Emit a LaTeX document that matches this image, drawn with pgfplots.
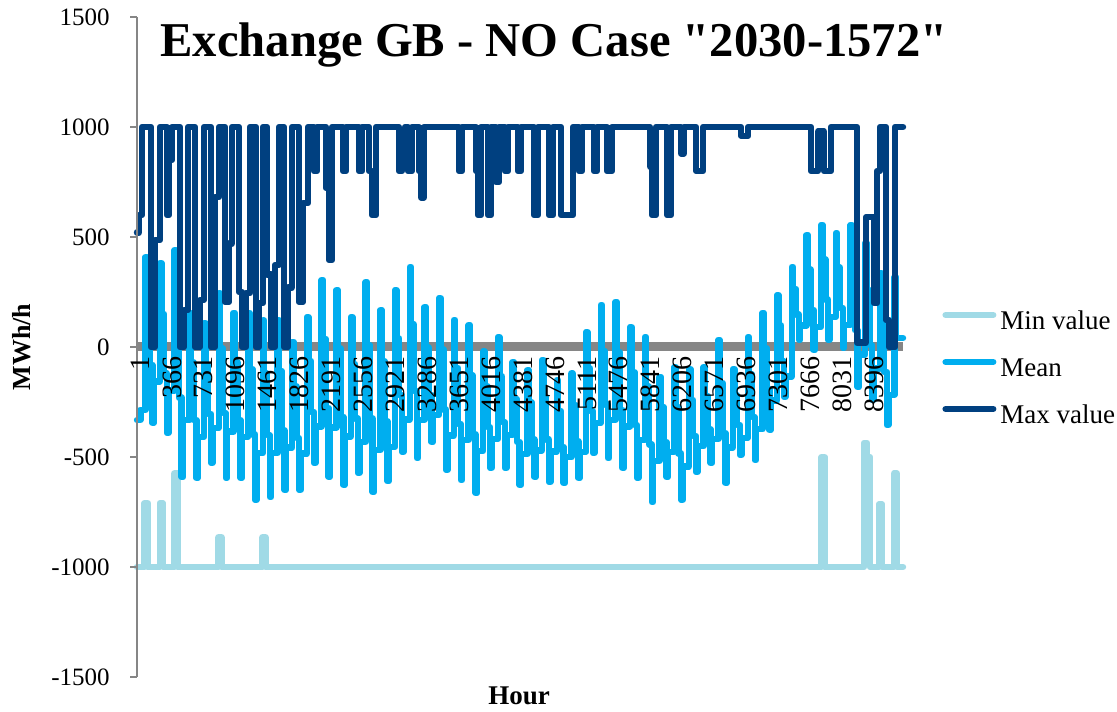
\documentclass[border=0pt]{standalone}
\usepackage{pgfplots}
\usepackage{pgfplotstable}
\pgfplotsset{compat=1.18}
\usepackage{fontspec}
\setmainfont{Liberation Serif}

\definecolor{minc}{RGB}{160,218,230}
\definecolor{meanc}{RGB}{0,174,239}
\definecolor{maxc}{RGB}{0,64,128}
\definecolor{axgray}{RGB}{134,134,134}

% hourly exchange GB-NO, step values (hour, MWh/h)
\pgfplotstableread{
h v
1 -1000
89 -710
123 -1000
261 -710
295 -1000
428 -575
462 -1000
933 -865
967 -1000
1436 -865
1470 -1000
7830 -500
7864 -1000
8314 -436
8349 -500
8383 -1000
8485 -715
8519 -1000
8656 -575
8690 -1000
8760 -1000
}\minseries

\pgfplotstableread{
h v
1 -332
40 -286
96 409
112 183
144 -81
176 -345
192 -156
264 382
280 150
312 -120
344 -391
360 -198
432 441
448 131
480 -230
512 -591
528 -333
600 155
616 -70
648 -332
680 -595
696 -408
768 109
784 -82
816 -304
848 -527
864 -368
936 245
952 -7
984 -301
1016 -595
1032 -385
1104 155
1120 -70
1152 -332
1184 -595
1200 -408
1272 155
1288 -100
1320 -397
1352 -695
1368 -483
1440 120
1456 -121
1488 -401
1520 -682
1536 -482
1608 123
1624 -109
1656 -379
1688 -650
1704 -457
1776 23
1792 -179
1824 -414
1856 -650
1872 -485
1944 136
1960 -63
1992 -295
2024 -527
2040 -361
2112 305
2128 37
2160 -277
2192 -590
2208 -366
2280 259
2296 -7
2328 -317
2360 -627
2376 -406
2448 136
2464 -77
2496 -325
2528 -573
2544 -431
2616 295
2632 9
2664 -325
2696 -659
2712 -468
2784 168
2800 -65
2832 -338
2864 -610
2880 -454
2952 259
2968 38
3000 -219
3032 -477
3048 -330
3120 364
3136 103
3168 -201
3200 -505
3216 -331
3288 182
3304 -2
3336 -217
3368 -432
3384 -309
3456 223
3472 -12
3504 -285
3536 -559
3552 -403
3624 123
3640 -95
3672 -350
3704 -605
3720 -423
3792 100
3808 -129
3840 -397
3872 -664
3888 -473
3960 -20
3976 -179
4008 -365
4040 -550
4056 -418
4128 45
4144 -134
4176 -342
4208 -550
4224 -401
4296 -68
4312 -236
4344 -431
4376 -627
4392 -487
4464 -105
4480 -251
4512 -421
4544 -591
4560 -470
4632 -59
4648 -226
4680 -420
4712 -614
4728 -475
4800 -150
4816 -290
4848 -454
4880 -618
4896 -501
4968 -120
4984 -263
5016 -429
5048 -595
5064 -476
5136 68
5152 -97
5184 -290
5216 -482
5232 -345
5304 191
5320 -18
5352 -261
5384 -505
5400 -331
5472 205
5488 -22
5520 -286
5552 -550
5568 -361
5640 91
5656 -115
5688 -355
5720 -595
5736 -424
5808 45
5824 -180
5856 -443
5888 -705
5904 -518
5976 -136
5992 -273
6024 -432
6056 -591
6072 -477
6144 -91
6160 -272
6192 -484
6224 -695
6240 -544
6312 -100
6328 -240
6360 -404
6392 -568
6408 -451
6480 -91
6496 -222
6528 -374
6560 -527
6576 -418
6648 32
6664 -163
6696 -391
6728 -618
6744 -456
6816 -100
6832 -217
6864 -354
6896 -491
6912 -413
6984 45
7000 -123
7032 -318
7064 -514
7080 -374
7152 155
7168 -5
7200 -191
7232 -377
7248 -244
7320 236
7336 97
7368 -65
7400 -227
7416 -134
7488 364
7504 264
7536 148
7568 32
7584 98
7656 509
7672 352
7704 169
7736 -14
7752 91
7824 555
7840 398
7872 215
7904 32
7920 137
7992 518
8008 361
8040 178
8072 -5
8088 100
8160 555
8176 334
8208 76
8240 -182
8256 -35
8328 473
8344 259
8376 10
8408 -240
8424 -97
8496 336
8512 129
8544 -113
8576 -355
8592 -217
8664 318
8680 41
8760 41
}\meanseries

\pgfplotstableread{
h v
1 520
24 600
58 1000
161 0
207 486
264 1000
344 600
367 850
401 1000
493 0
538 168
584 1000
664 0
721 214
767 1000
847 0
893 682
939 1000
1007 205
1053 470
1087 1000
1167 250
1202 0
1247 245
1293 1000
1362 0
1396 200
1442 1000
1488 330
1533 0
1579 373
1625 1000
1682 0
1728 270
1773 1000
1853 205
1899 654
1956 1000
2025 800
2059 1000
2162 723
2197 395
2231 1000
2357 800
2391 1000
2540 800
2574 1000
2654 800
2688 600
2734 1000
2997 800
3031 970
3065 1000
3100 800
3145 1000
3225 800
3248 680
3283 1000
3683 800
3717 1000
3877 800
3900 600
3935 1000
4015 600
4049 1000
4106 750
4141 1000
4209 800
4243 1000
4358 800
4392 1000
4541 600
4586 1000
4712 600
4758 1000
4849 600
4987 1000
5055 800
5089 1000
5227 800
5261 1000
5375 800
5433 1000
5867 820
5890 600
5936 1000
6062 600
6107 1000
6222 880
6256 1000
6394 800
6474 1000
6908 960
6988 1000
7708 800
7788 980
7857 800
7937 1000
8234 20
8337 590
8428 200
8463 800
8497 1000
8566 123
8600 0
8669 1000
8760 1000
}\maxseries

\begin{document}
\begin{tikzpicture}
\begin{axis}[
  at={(68.5pt,17pt)}, anchor=south west,
  width=383pt, height=330pt, scale only axis,
  xmin=1, xmax=8760, ymin=-1500, ymax=1500,
  clip=false,
  axis on top,
  axis y line*=left, axis x line*=middle,
  hide obscured x ticks=false,
  x axis line style={draw=none},
  y axis line style={axgray, line width=0.9pt},
  ytick={-1500,-1000,...,1500},
  xtick={1,366,...,8396},
  xtick style={draw=none},
  ytick style={axgray, line width=0.9pt},
  tick align=outside,
  major tick length=3.5pt,
  scaled ticks=false,
  /pgf/number format/1000 sep={},
  /pgf/number format/assume math mode=true,
  yticklabel style={font=\fontsize{12.5}{12.5}\selectfont, anchor=east, inner sep=0pt, xshift=-10pt},
  xticklabel style={font=\fontsize{14}{14}\selectfont, rotate=90, anchor=east, inner sep=0pt, yshift=-1.5pt, xshift=-1pt},
  title={Exchange GB - NO Case \textquotedbl 2030-1572\textquotedbl},
  title style={at={(axis description cs:0.5444,0.9212)}, anchor=base, font=\bfseries\fontsize{24.3}{24.3}\selectfont, inner sep=0pt},
  xlabel={Hour},
  ylabel={MWh/h},
  every axis x label/.style={at={(axis description cs:0.4987,-0.0288)}, anchor=center, font=\bfseries\fontsize{13.5}{13.5}\selectfont},
  every axis y label/.style={at={(axis description cs:-0.150,0.5)}, rotate=90, anchor=center, font=\bfseries\fontsize{13}{13}\selectfont},
  legend style={at={(axis description cs:1.0509,0.4652)}, anchor=west, draw=none, fill=none,
    font=\fontsize{13.5}{13.5}\selectfont, inner sep=0pt, row sep=10.5pt,
    nodes={inner sep=0pt, text height=10pt, text depth=3pt},
    /tikz/every odd column/.append style={column sep=2pt}},
  legend cell align=left,
  legend image code/.code={\draw[#1, line width=3.2pt, line cap=round] (1.6pt,4pt) -- (25.4pt,4pt);},
]
\addplot[axgray, line width=4.5pt, line cap=butt, forget plot] coordinates {(1,0) (8760,0)};
\addplot[minc, const plot, no marks, line width=3.2pt, line join=round, line cap=round] table[x=h, y=v] {\minseries};
\addlegendentry{Min value}
\addplot[meanc, const plot, no marks, line width=3.2pt, line join=round, line cap=round] table[x=h, y=v] {\meanseries};
\addlegendentry{Mean}
\addplot[maxc, const plot, no marks, line width=3.2pt, line join=round, line cap=round] table[x=h, y=v] {\maxseries};
\addlegendentry{Max value}
\end{axis}
\pgfresetboundingbox
\path[use as bounding box] (0,0) rectangle (558.5pt,355.5pt);
\end{tikzpicture}
\end{document}
